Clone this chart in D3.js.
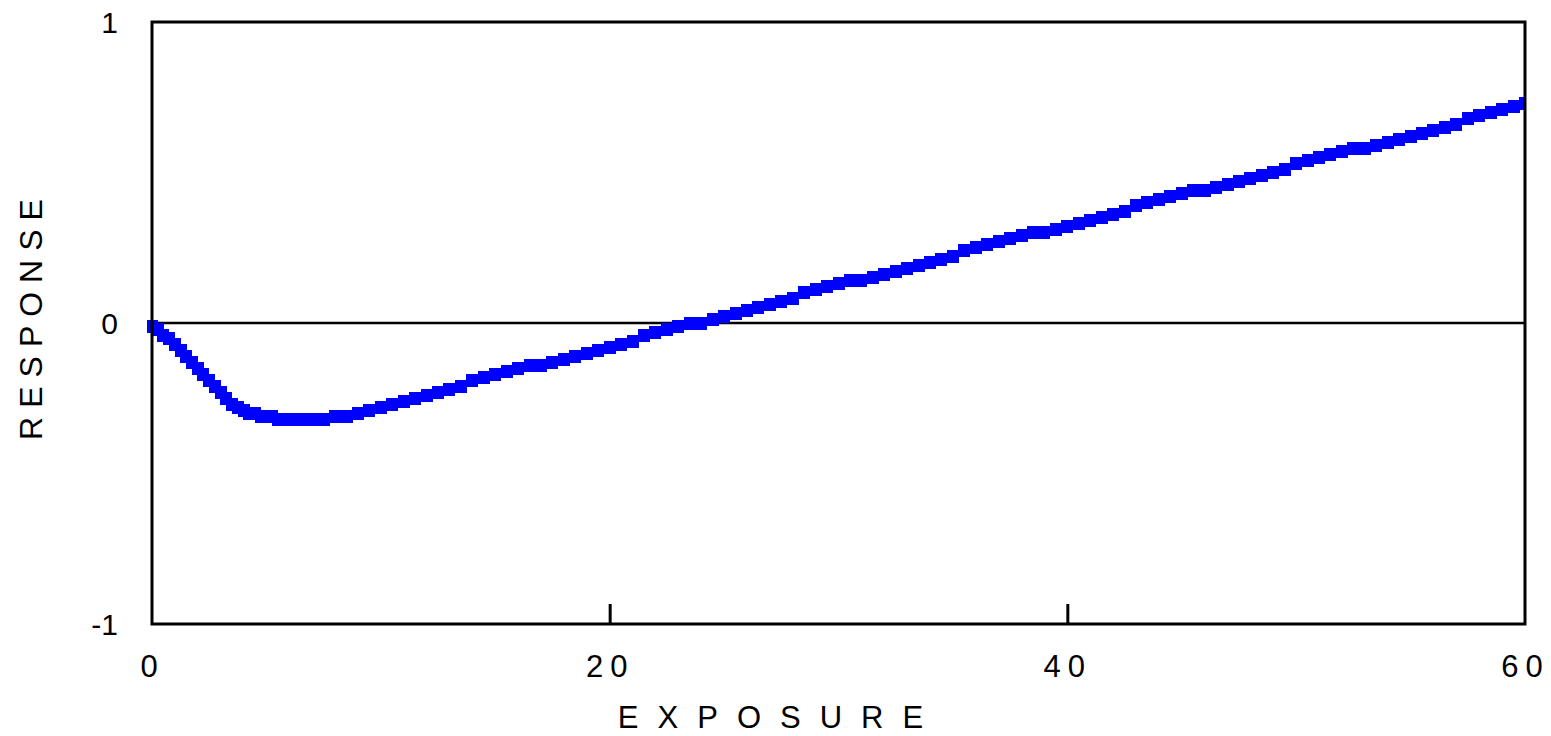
<!DOCTYPE html>
<html>
<head>
<meta charset="utf-8">
<script src="https://cdn.jsdelivr.net/npm/d3@7"></script>
<style>
  html, body { margin: 0; padding: 0; background: #fff; }
  svg { display: block; font-family: "Liberation Sans", Arial, sans-serif; }
</style>
</head>
<body>
<div id="chart"></div>
<script>
// exposure values (finer sampling at the start, where the curve drops fast)
const exposure = [
  0, 0.25, 0.5, 0.75, 1, 1.25, 1.5, 1.75, 2, 2.25, 2.5, 2.75, 3, 3.25, 3.5, 3.75,
  4, 4.25, 4.5, 4.75, 5, 5.25, 5.5, 5.75, 6,
  6.5, 7, 7.5, 8, 8.5, 9, 9.5, 10, 10.5, 11, 11.5, 12, 12.5, 13, 13.5, 14, 14.5,
  15, 15.5, 16, 16.5, 17, 17.5, 18, 18.5, 19, 19.5, 20, 20.5, 21, 21.5, 22, 22.5,
  23, 23.5, 24, 24.5, 25, 25.5, 26, 26.5, 27, 27.5, 28, 28.5, 29, 29.5, 30, 30.5,
  31, 31.5, 32, 32.5, 33, 33.5, 34, 34.5, 35, 35.5, 36, 36.5, 37, 37.5, 38, 38.5,
  39, 39.5, 40, 40.5, 41, 41.5, 42, 42.5, 43, 43.5, 44, 44.5, 45, 45.5, 46, 46.5,
  47, 47.5, 48, 48.5, 49, 49.5, 50, 50.5, 51, 51.5, 52, 52.5, 53, 53.5, 54, 54.5,
  55, 55.5, 56, 56.5, 57, 57.5, 58, 58.5, 59, 59.5, 60
];

const response = [
  -0.01, -0.02, -0.04, -0.05, -0.07, -0.09, -0.11, -0.13, -0.15, -0.17, -0.19, -0.21, -0.23, -0.25, -0.27, -0.28,
  -0.29, -0.30, -0.30, -0.31, -0.31, -0.31, -0.32, -0.32, -0.32,
  -0.32, -0.32, -0.32, -0.31, -0.31, -0.30, -0.29, -0.28, -0.27, -0.26, -0.25, -0.24, -0.23, -0.22, -0.21, -0.19, -0.18,
  -0.17, -0.16, -0.15, -0.14, -0.14, -0.13, -0.12, -0.11, -0.10, -0.09, -0.08, -0.07, -0.06, -0.04, -0.03, -0.02,
  -0.01, 0.00, 0.00, 0.01, 0.02, 0.03, 0.04, 0.05, 0.06, 0.07, 0.08, 0.10, 0.11, 0.12, 0.13, 0.14,
  0.14, 0.15, 0.16, 0.17, 0.18, 0.19, 0.20, 0.21, 0.22, 0.24, 0.25, 0.26, 0.27, 0.28, 0.29, 0.30,
  0.30, 0.31, 0.32, 0.33, 0.34, 0.35, 0.36, 0.37, 0.39, 0.40, 0.41, 0.42, 0.43, 0.44, 0.44, 0.45,
  0.46, 0.47, 0.48, 0.49, 0.50, 0.51, 0.53, 0.54, 0.55, 0.56, 0.57, 0.58, 0.58, 0.59, 0.60, 0.61,
  0.62, 0.63, 0.64, 0.65, 0.66, 0.68, 0.69, 0.70, 0.71, 0.72, 0.73
];

const xTicks = [0, 20, 40, 60];
const yTicks = [-1, 0, 1];

const data = exposure.map((e, i) => ({e, r: response[i]}));

const svg = d3.select('#chart').append('svg')
    .attr('width', 1551)
    .attr('height', 736);

const plotLeft = 152, plotRight = 1525, plotTop = 22, plotBottom = 624;

const x = d3.scaleLinear().domain([0, 60]).range([plotLeft, plotRight]);
const y = d3.scaleLinear().domain([-1, 1]).range([plotBottom, plotTop]);

// zero line
svg.append('line')
    .attr('x1', plotLeft).attr('x2', plotRight)
    .attr('y1', y(0)).attr('y2', y(0))
    .attr('stroke', '#000')
    .attr('stroke-width', 2.5);

// markers
svg.append('defs').append('clipPath')
    .attr('id', 'clip')
    .append('rect')
    .attr('x', plotLeft - 5).attr('y', plotTop)
    .attr('width', plotRight - plotLeft + 5).attr('height', plotBottom - plotTop);

const mw = 12, mh = 13;
svg.append('g')
    .attr('clip-path', 'url(#clip)')
    .selectAll('rect')
    .data(data)
    .join('rect')
    .attr('x', d => Math.round(x(d.e) - mw / 2))
    .attr('y', d => Math.round(y(d.r) - mh / 2))
    .attr('width', mw)
    .attr('height', mh)
    .attr('fill', '#0000ff')
    .attr('shape-rendering', 'crispEdges');

// frame
svg.append('rect')
    .attr('x', plotLeft).attr('y', plotTop)
    .attr('width', plotRight - plotLeft).attr('height', plotBottom - plotTop)
    .attr('fill', 'none')
    .attr('stroke', '#000')
    .attr('stroke-width', 3);

// x axis: ticks point up into the plot
const xAxis = svg.append('g')
    .attr('transform', 'translate(0,' + plotBottom + ')')
    .call(d3.axisBottom(x).tickValues(xTicks).tickSize(-20).tickFormat(d => String(d)));

xAxis.select('.domain').remove();
xAxis.selectAll('.tick line')
    .attr('stroke-width', 3)
    .attr('display', d => (d === 0 || d === 60) ? 'none' : null);
xAxis.selectAll('.tick text')
    .attr('y', 53)
    .attr('dy', 0)
    .attr('fill', '#000')
    .style('font-size', '31px')
    .style('letter-spacing', '7px')
    .style('font-family', '"Liberation Sans", Arial, sans-serif');

// y axis
const yAxis = svg.append('g')
    .attr('transform', 'translate(' + plotLeft + ',0)')
    .call(d3.axisLeft(y).tickValues(yTicks).tickSize(0).tickPadding(34).tickFormat(d => String(d)));

yAxis.select('.domain').remove();
yAxis.selectAll('.tick text')
    .attr('dy', '0.36em')
    .attr('fill', '#000')
    .style('font-size', '30px')
    .style('font-family', '"Liberation Sans", Arial, sans-serif');

// axis titles
svg.append('text')
    .attr('x', 780)
    .attr('y', 728)
    .attr('text-anchor', 'middle')
    .style('font-size', '31px')
    .style('letter-spacing', '19px')
    .text('EXPOSURE');

svg.append('text')
    .attr('transform', 'translate(42,315) rotate(-90)')
    .attr('text-anchor', 'middle')
    .style('font-size', '32px')
    .style('letter-spacing', '9px')
    .text('RESPONSE');
</script>
</body>
</html>
